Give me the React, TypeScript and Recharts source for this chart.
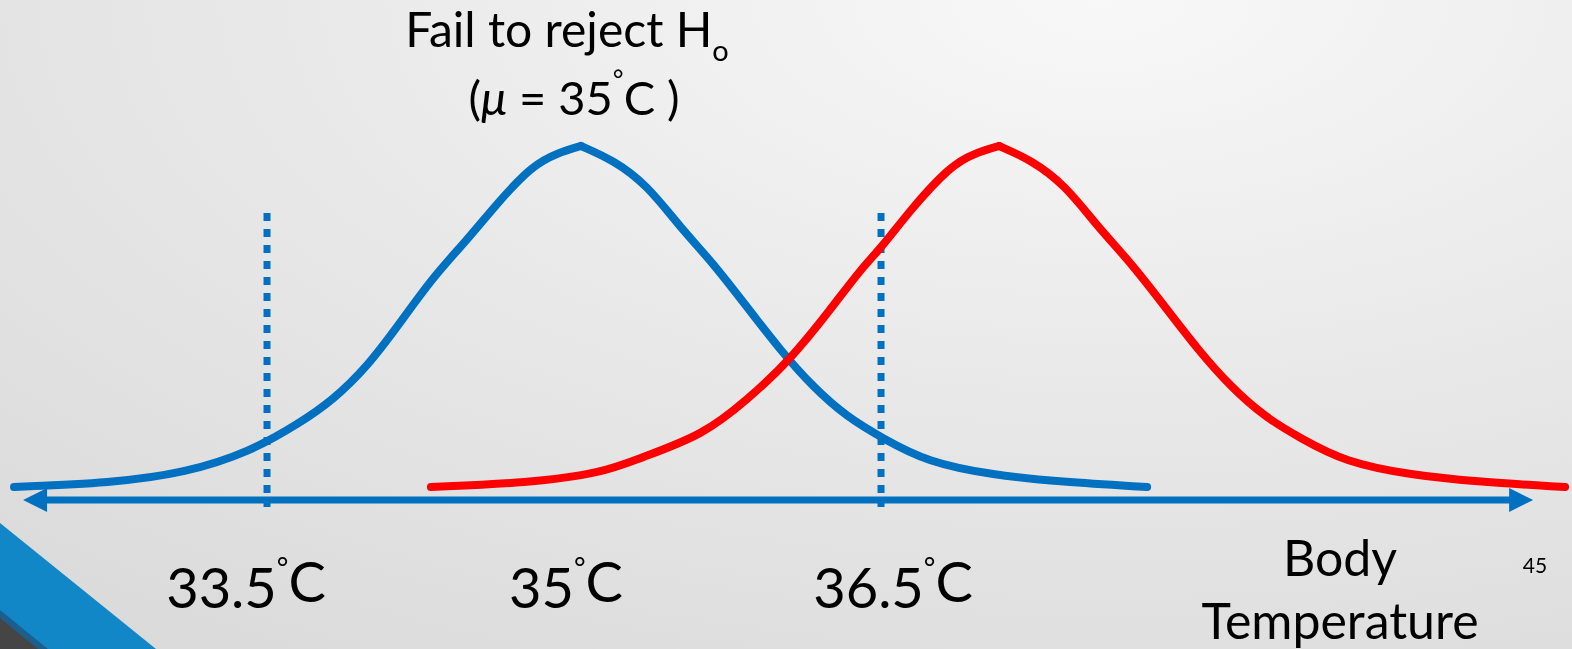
import React from "react";
import { LineChart, Line, XAxis, YAxis, ReferenceLine } from "recharts";

// curve points: temperature (°C) and curve height (peak = 1)
const blueRiseT = [32.264, 32.738, 33.099, 33.417, 33.661, 33.822, 33.989, 34.15, 34.311, 34.477, 34.638, 34.8, 34.917, 35.034];
const blueRiseY = [0, 0.012, 0.041, 0.103, 0.188, 0.255, 0.352, 0.481, 0.616, 0.724, 0.842, 0.944, 0.979, 1];
const blueFallT = [35.034, 35.191, 35.357, 35.518, 35.679, 35.845, 36.007, 36.168, 36.334, 36.505, 36.725, 37.047, 37.375, 37.8];
const blueFallY = [1, 0.959, 0.886, 0.762, 0.657, 0.528, 0.402, 0.293, 0.205, 0.144, 0.073, 0.035, 0.015, 0];

const redRiseT = [34.301, 34.775, 35.137, 35.322, 35.63, 35.845, 36.055, 36.251, 36.397, 36.505, 36.642, 36.842, 36.959, 37.077];
const redRiseY = [0, 0.012, 0.041, 0.085, 0.152, 0.255, 0.372, 0.519, 0.636, 0.704, 0.812, 0.944, 0.979, 1];
const redFallT = [37.077, 37.233, 37.399, 37.56, 37.722, 37.888, 38.049, 38.21, 38.376, 38.547, 38.767, 39.09, 39.417, 39.842];
const redFallY = [1, 0.959, 0.886, 0.762, 0.657, 0.528, 0.402, 0.293, 0.205, 0.144, 0.073, 0.035, 0.015, 0];

const criticalValues = [33.5, 36.5];
const tickValues = [33.5, 35, 36.5];
const tickLabels = ["33.5", "35", "36.5"];

const axisStart = 32.308;
const axisEnd = 39.686;
const axisLevel = -0.038;
const dotTop = 0.8035;
const dotBottom = -0.0587;

const BLUE = "#0070C0";
const RED = "#FF0000";
const FONT = "Lato, 'Open Sans', sans-serif";

const zip = (t: number[], y: number[]) => t.map((v, i) => ({ t: v, y: y[i] }));

const ArrowAxis = (props: any) => {
  const { x1, y1, x2 } = props;
  const head = 24;
  const half = 12;
  return (
    <g>
      <line x1={x1 + 10} y1={y1} x2={x2 - 10} y2={y1} stroke={BLUE} strokeWidth={7} />
      <polygon points={`${x1},${y1} ${x1 + head},${y1 - half} ${x1 + head},${y1 + half}`} fill={BLUE} />
      <polygon points={`${x2},${y1} ${x2 - head},${y1 - half} ${x2 - head},${y1 + half}`} fill={BLUE} />
    </g>
  );
};

// the slide's labels sit a little off their values
const tickNudge = [-21, -8, 12];

const renderTick = (props: any) => {
  const { x, payload } = props;
  const i = tickValues.indexOf(payload.value);
  return (
    <text x={x + tickNudge[i]} y={608} textAnchor="middle" fontFamily={FONT} fontSize={56} fill="#000">
      {tickLabels[i]}
      <tspan fontSize={28} dy={-30}>°</tspan>
      <tspan dy={24}>C</tspan>
    </text>
  );
};

const lineProps = {
  dataKey: "y",
  type: "basis" as const,
  strokeWidth: 8,
  strokeLinecap: "round" as const,
  dot: false,
  activeDot: false,
  isAnimationActive: false,
};

export default function App() {
  return (
    <div
      style={{
        position: "fixed",
        left: 0,
        top: 0,
        width: 1572,
        height: 649,
        overflow: "hidden",
        background: "radial-gradient(ellipse 120% 140% at 70% 0%, #f8f8f8 0%, #e8e8e8 45%, #d6d6d6 100%)",
      }}
    >
      <svg width={1572} height={649} style={{ position: "absolute", left: 0, top: 0 }}>
        <polygon points="0,523 156,649 0,649" fill="#1287C7" />
        <polygon points="0,610 48,649 0,649" fill="#1d5f8c" />
        <polygon points="0,618 38,649 0,649" fill="#454545" />
        <text x={567} y={47} textAnchor="middle" fontFamily={FONT} fontSize={48} fill="#000">
          Fail to reject H
          <tspan fontSize={29} dy={14}>o</tspan>
        </text>
        <text x={574} y={115} textAnchor="middle" fontFamily={FONT} fontSize={47} fill="#000">
          (<tspan fontStyle="italic">μ</tspan> = 35
          <tspan fontSize={26} dy={-26}>°</tspan>
          <tspan dy={26}>C )</tspan>
        </text>
        <text x={1340} y={576} textAnchor="middle" fontFamily={FONT} fontSize={50} fill="#000">Body</text>
        <text x={1340} y={639} textAnchor="middle" fontFamily={FONT} fontSize={50} fill="#000">Temperature</text>
        <text x={1535} y={573} textAnchor="middle" fontFamily={FONT} fontSize={21} fill="#000">45</text>
      </svg>
      <div style={{ position: "absolute", left: 0, top: 0 }}>
        <LineChart width={1572} height={649} margin={{ top: 0, right: 0, bottom: 0, left: 0 }}>
          <XAxis
            type="number"
            dataKey="t"
            domain={[32.1954, 39.876]}
            allowDataOverflow
            ticks={tickValues}
            height={140}
            axisLine={false}
            tickLine={false}
            tick={renderTick}
            interval={0}
          />
          <YAxis hide type="number" domain={[-0.0645, 1.4282]} allowDataOverflow />
          <ReferenceLine
            segment={[{ x: axisStart, y: axisLevel }, { x: axisEnd, y: axisLevel }]}
            shape={<ArrowAxis />}
          />
          {criticalValues.map((c) => (
            <ReferenceLine
              key={c}
              segment={[{ x: c, y: dotTop }, { x: c, y: dotBottom }]}
              stroke={BLUE}
              strokeWidth={7}
              strokeDasharray="8 8"
            />
          ))}
          <Line {...lineProps} data={zip(blueRiseT, blueRiseY)} stroke={BLUE} />
          <Line {...lineProps} data={zip(blueFallT, blueFallY)} stroke={BLUE} />
          <Line {...lineProps} data={zip(redRiseT, redRiseY)} stroke={RED} />
          <Line {...lineProps} data={zip(redFallT, redFallY)} stroke={RED} />
        </LineChart>
      </div>
    </div>
  );
}
